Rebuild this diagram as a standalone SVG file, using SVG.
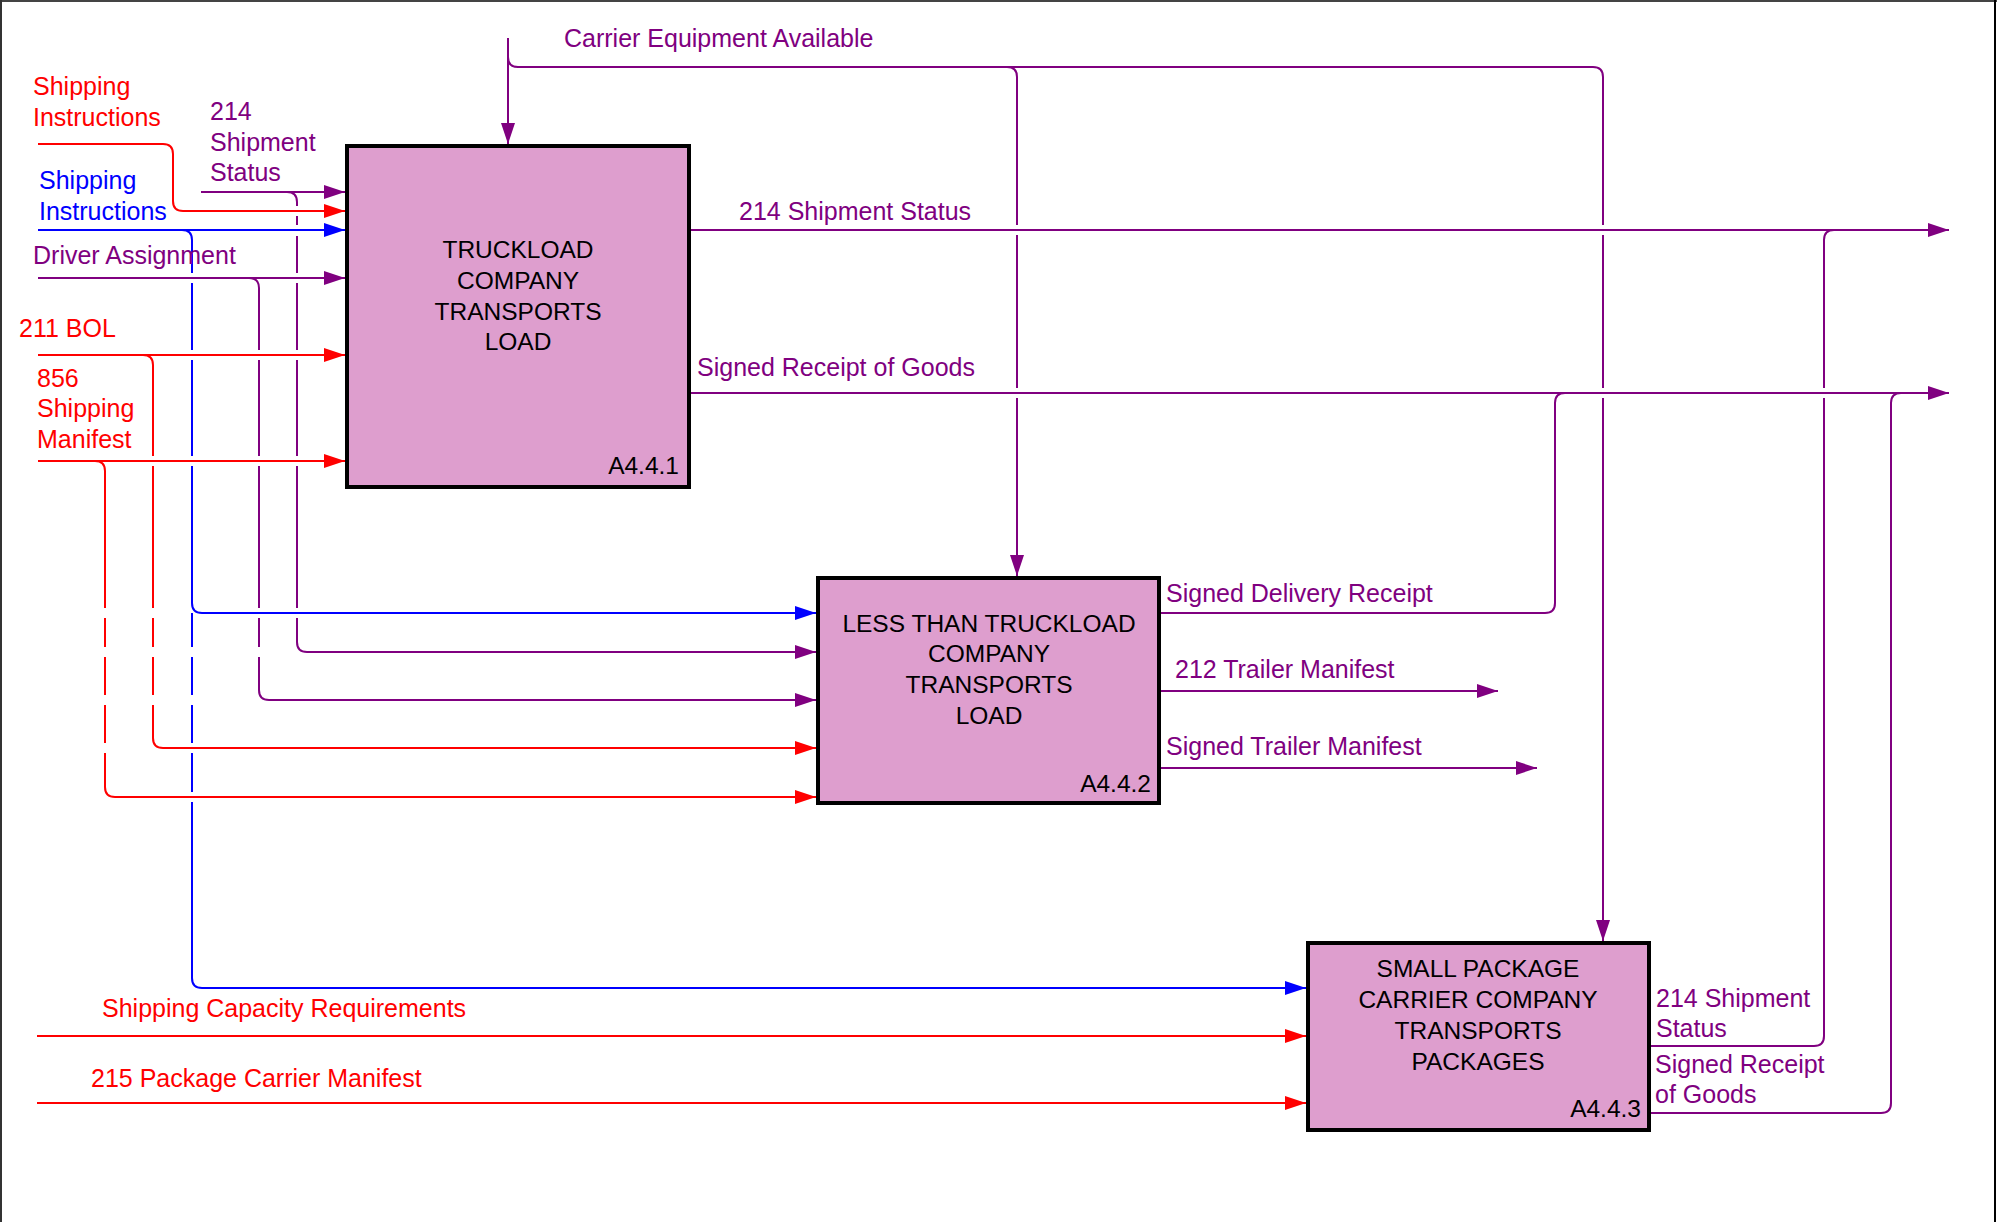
<svg xmlns="http://www.w3.org/2000/svg" width="1997" height="1222" viewBox="0 0 1997 1222">
<defs>
<style>
text{font-family:"Liberation Sans",Arial,sans-serif;font-size:25px}
.bt{font-size:24.5px;fill:#000;text-anchor:middle}
.id{font-size:24.5px;fill:#000;text-anchor:end}
.box{fill:#DE9ECE;stroke:#000;stroke-width:4}
.p{fill:#800080}.r{fill:#FF0000}.b{fill:#0000FF}
.lp{fill:none;stroke:#800080;stroke-width:2}
.lr{fill:none;stroke:#FF0000;stroke-width:2}
.lb{fill:none;stroke:#0000FF;stroke-width:2}
.ap{marker-end:url(#ap)}.ar{marker-end:url(#ar)}.ab{marker-end:url(#ab)}
</style>
<marker id="ap" markerUnits="userSpaceOnUse" markerWidth="21" markerHeight="14" refX="21" refY="7" orient="auto"><path d="M0,0 L21,7 L0,14 Z" fill="#800080"/></marker>
<marker id="ar" markerUnits="userSpaceOnUse" markerWidth="21" markerHeight="14" refX="21" refY="7" orient="auto"><path d="M0,0 L21,7 L0,14 Z" fill="#FF0000"/></marker>
<marker id="ab" markerUnits="userSpaceOnUse" markerWidth="21" markerHeight="14" refX="21" refY="7" orient="auto"><path d="M0,0 L21,7 L0,14 Z" fill="#0000FF"/></marker>
</defs>
<rect x="0" y="0" width="1997" height="1222" fill="#FFFFFF"/>
<g id="frame" fill="none">
<path d="M0,1 H1997" stroke="#444" stroke-width="2"/>
<path d="M1,0 V1222" stroke="#333" stroke-width="2"/>
<path d="M1995,0 V1222" stroke="#000" stroke-width="2"/>
</g>

<g id="node-a441">
<rect class="box" x="347" y="146" width="342" height="341"/>
<text class="bt" x="518" y="258">TRUCKLOAD</text>
<text class="bt" x="518" y="289">COMPANY</text>
<text class="bt" x="518" y="320">TRANSPORTS</text>
<text class="bt" x="518" y="350">LOAD</text>
<text class="id" x="679" y="474">A4.4.1</text>
</g>
<g id="node-a442">
<rect class="box" x="818" y="578" width="341" height="225"/>
<text class="bt" x="989" y="632">LESS THAN TRUCKLOAD</text>
<text class="bt" x="989" y="662">COMPANY</text>
<text class="bt" x="989" y="693">TRANSPORTS</text>
<text class="bt" x="989" y="724">LOAD</text>
<text class="id" x="1151" y="792">A4.4.2</text>
</g>
<g id="node-a443">
<rect class="box" x="1308" y="943" width="341" height="187"/>
<text class="bt" x="1478" y="977">SMALL PACKAGE</text>
<text class="bt" x="1478" y="1008">CARRIER COMPANY</text>
<text class="bt" x="1478" y="1039">TRANSPORTS</text>
<text class="bt" x="1478" y="1070">PACKAGES</text>
<text class="id" x="1641" y="1117">A4.4.3</text>
</g>

<g id="connectors">
<!-- purple -->
<path class="lp ap" d="M508,38 V144"/>
<path class="lp ap" d="M508,57 Q508,67 518,67 H1593 Q1603,67 1603,77 V225 M1603,235 V388 M1603,398 V941"/>
<path class="lp ap" d="M1007,67 Q1017,67 1017,77 V225 M1017,235 V388 M1017,398 V576"/>
<path class="lp ap" d="M201,192 H345"/>
<path class="lp ap" d="M287,192 Q297,192 297,202 V206 M297,216 V225 M297,236 V273 M297,283 V350 M297,360 V456 M297,466 V608 M297,618 V642 Q297,652 307,652 H816"/>
<path class="lp ap" d="M38,278 H345"/>
<path class="lp ap" d="M249,278 Q259,278 259,288 V350 M259,360 V456 M259,466 V608 M259,618 V647 M259,657 V690 Q259,700 269,700 H816"/>
<path class="lp ap" d="M691,230 H1949"/>
<path class="lp ap" d="M691,393 H1949"/>
<path class="lp" d="M1161,613 H1545 Q1555,613 1555,603 V403 Q1555,393 1565,393"/>
<path class="lp ap" d="M1161,691 H1498"/>
<path class="lp ap" d="M1161,768 H1537"/>
<path class="lp" d="M1651,1046 H1814 Q1824,1046 1824,1036 V398 M1824,388 V240 Q1824,230 1834,230"/>
<path class="lp" d="M1651,1113 H1881 Q1891,1113 1891,1103 V403 Q1891,393 1901,393"/>
<!-- red -->
<path class="lr ar" d="M38,144 H163 Q173,144 173,154 V201 Q173,211 183,211 H345"/>
<path class="lr ar" d="M38,355 H345"/>
<path class="lr ar" d="M143,355 Q153,355 153,365 V456 M153,466 V608 M153,618 V647 M153,657 V695 M153,705 V738 Q153,748 163,748 H816"/>
<path class="lr ar" d="M38,461 H345"/>
<path class="lr ar" d="M95,461 Q105,461 105,471 V608 M105,618 V647 M105,657 V695 M105,705 V743 M105,753 V787 Q105,797 115,797 H816"/>
<path class="lr ar" d="M37,1036 H1306"/>
<path class="lr ar" d="M37,1103 H1306"/>
<!-- blue -->
<path class="lb ab" d="M38,230 H345"/>
<path class="lb ab" d="M182,230 Q192,230 192,240 V273 M192,283 V350 M192,360 V456 M192,466 V603 Q192,613 202,613 H816"/>
<path class="lb ab" d="M192,613 V647 M192,657 V695 M192,705 V743 M192,753 V792 M192,802 V978 Q192,988 202,988 H1306"/>
</g>

<g id="labels">
<text class="p" x="564" y="47">Carrier Equipment Available</text>
<text class="r" x="33" y="95">Shipping</text>
<text class="r" x="33" y="126">Instructions</text>
<text class="p" x="210" y="120">214</text>
<text class="p" x="210" y="151">Shipment</text>
<text class="p" x="210" y="181">Status</text>
<text class="b" x="39" y="189">Shipping</text>
<text class="b" x="39" y="220">Instructions</text>
<text class="p" x="33" y="264">Driver Assignment</text>
<text class="r" x="19" y="337">211 BOL</text>
<text class="r" x="37" y="387">856</text>
<text class="r" x="37" y="417">Shipping</text>
<text class="r" x="37" y="448">Manifest</text>
<text class="p" x="739" y="220">214 Shipment Status</text>
<text class="p" x="697" y="376">Signed Receipt of Goods</text>
<text class="p" x="1166" y="602">Signed Delivery Receipt</text>
<text class="p" x="1175" y="678">212 Trailer Manifest</text>
<text class="p" x="1166" y="755">Signed Trailer Manifest</text>
<text class="p" x="1656" y="1007">214 Shipment</text>
<text class="p" x="1656" y="1037">Status</text>
<text class="p" x="1655" y="1073">Signed Receipt</text>
<text class="p" x="1655" y="1103">of Goods</text>
<text class="r" x="102" y="1017">Shipping Capacity Requirements</text>
<text class="r" x="91" y="1087">215 Package Carrier Manifest</text>
</g>
</svg>
